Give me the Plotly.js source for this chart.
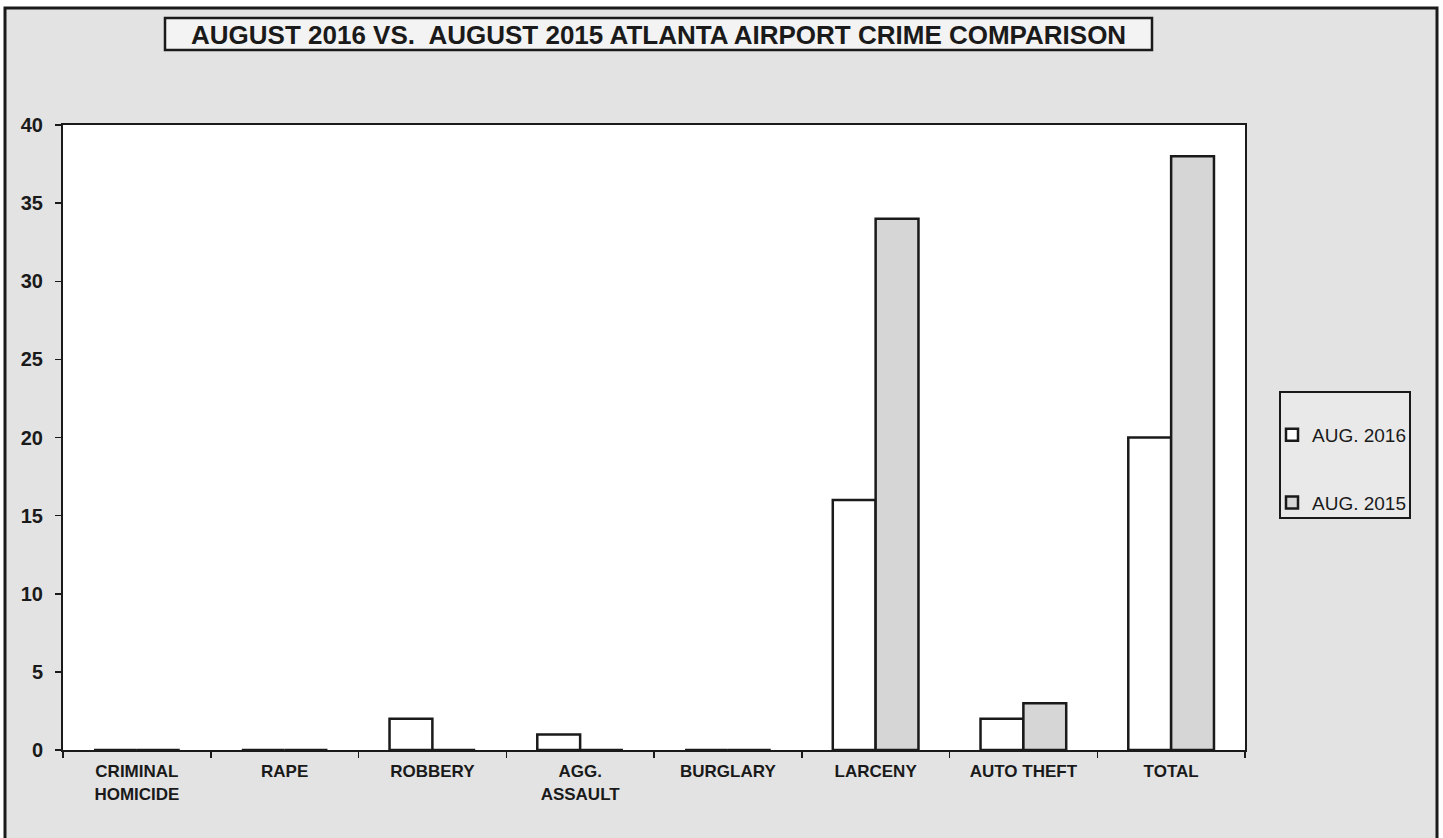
<!DOCTYPE html>
<html>
<head>
<meta charset="utf-8">
<script src="https://cdn.plot.ly/plotly-3.0.1.min.js"></script>
<style>
  html, body { margin: 0; padding: 0; background: #ffffff; }
  #chart { width: 1443px; height: 838px; }
</style>
</head>
<body>
<div id="chart"></div>
<script>
const categories = ["CRIMINAL<br>HOMICIDE", "RAPE", "ROBBERY", "AGG.<br>ASSAULT", "BURGLARY", "LARCENY", "AUTO THEFT", "TOTAL"];
const aug2016 = [0, 0, 2, 1, 0, 16, 2, 20];
const aug2015 = [0, 0, 0, 0, 0, 34, 3, 38];
const seriesNames = ["AUG. 2016", "AUG. 2015"];
const yTicks = [0, 5, 10, 15, 20, 25, 30, 35, 40];
const chartTitle = "AUGUST 2016 VS.&nbsp; AUGUST 2015 ATLANTA AIRPORT CRIME COMPARISON";

const W = 1443, H = 838;
const L = 63, R = 1245, T = 125, B = 750;
const pw = R - L, ph = B - T;
const px = v => (v - L) / pw;
const py = v => (B - v) / ph;

const font = { family: "Arial, 'Liberation Sans', sans-serif", color: "#1a1a1a" };

const traces = [
  {
    type: "bar", name: seriesNames[0], x: categories, y: aug2016,
    legendgroup: "a",
    marker: { color: "#ffffff", line: { color: "#1a1a1a", width: 2.5 } }
  },
  {
    type: "bar", name: seriesNames[1], x: categories, y: aug2015,
    legendgroup: "b",
    marker: { color: "#d6d6d6", line: { color: "#1a1a1a", width: 2.5 } }
  }
];

const layout = {
  width: W, height: H,
  margin: { l: L, r: W - R, t: T, b: H - B, pad: 0 },
  paper_bgcolor: "#ffffff",
  plot_bgcolor: "#ffffff",
  barmode: "group",
  bargap: 0.42,
  bargroupgap: 0,
  showlegend: true,
  legend: {
    x: px(1272), y: py(416), xanchor: "left", yanchor: "top",
    bgcolor: "rgba(0,0,0,0)", borderwidth: 0,
    font: Object.assign({}, font, { size: 19 }),
    tracegroupgap: 40, itemwidth: 30, traceorder: "grouped"
  },
  xaxis: {
    type: "category",
    range: [-0.5, 7.5],
    showline: true, linecolor: "#1a1a1a", linewidth: 2, mirror: true,
    ticks: "outside", tickson: "boundaries", ticklen: 6, tickcolor: "#1a1a1a", tickwidth: 1.5,
    ticklabelstandoff: 5,
    tickfont: Object.assign({}, font, { size: 17, weight: "bold" }),
    showgrid: false, zeroline: false, tickangle: 0
  },
  yaxis: {
    range: [0, 40],
    tickvals: yTicks,
    showline: true, linecolor: "#1a1a1a", linewidth: 2, mirror: true,
    ticks: "outside", ticklen: 6, tickcolor: "#1a1a1a", tickwidth: 1.5,
    ticklabelstandoff: 8,
    tickfont: Object.assign({}, font, { size: 20, weight: "bold" }),
    showgrid: false, zeroline: false
  },
  shapes: [
    { type: "rect", xref: "paper", yref: "paper", layer: "below",
      x0: px(5), x1: px(1437), y0: py(900), y1: py(8),
      fillcolor: "#e3e3e3", line: { color: "#1a1a1a", width: 3 } },
    { type: "rect", xref: "paper", yref: "paper", layer: "below",
      x0: 0, x1: 1, y0: 0, y1: 1,
      fillcolor: "#ffffff", line: { width: 0 } },
    { type: "rect", xref: "paper", yref: "paper", layer: "below",
      x0: px(165), x1: px(1152), y0: py(50), y1: py(18),
      fillcolor: "#f3f3f3", line: { color: "#1a1a1a", width: 2.5 } },
    { type: "rect", xref: "paper", yref: "paper", layer: "below",
      x0: px(1280), x1: px(1410), y0: py(518), y1: py(392),
      fillcolor: "#e9e9e9", line: { color: "#1a1a1a", width: 2 } }
  ],
  annotations: [
    { xref: "paper", yref: "paper", x: px(658), y: py(35), xanchor: "center", yanchor: "middle",
      text: chartTitle, showarrow: false,
      font: Object.assign({}, font, { size: 26, weight: "bold" }) }
  ]
};

Plotly.newPlot("chart", traces, layout, { displayModeBar: false, staticPlot: true });
</script>
</body>
</html>
